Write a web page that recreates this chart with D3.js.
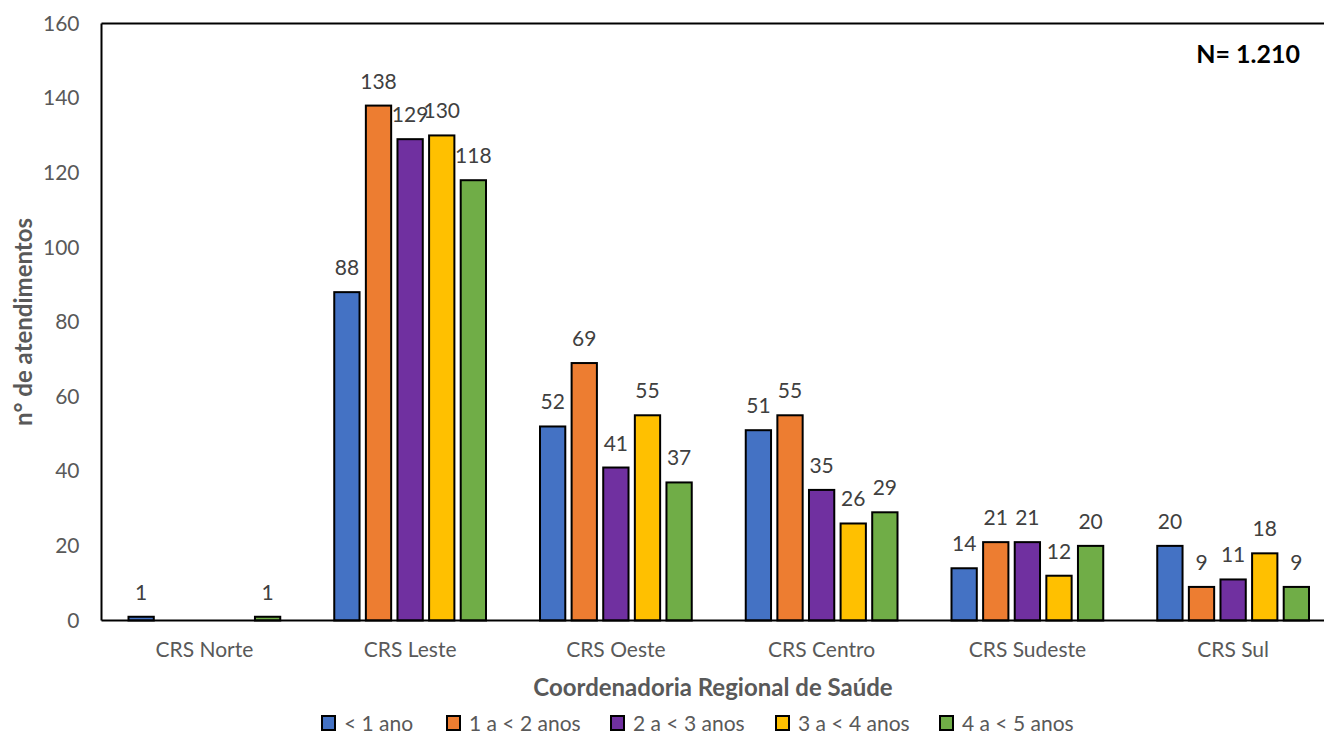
<!DOCTYPE html>
<html>
<head>
<meta charset="utf-8">
<script src="https://cdn.jsdelivr.net/npm/d3@7"></script>
<style>
  html, body { margin: 0; padding: 0; background: #fff; }
  svg { display: block; font-family: Lato, "Open Sans", sans-serif; }
</style>
</head>
<body>
<svg id="chart" width="1324" height="735"></svg>
<script>
// Regional coordinations (x categories)
const regions = ["CRS Norte", "CRS Leste", "CRS Oeste", "CRS Centro", "CRS Sudeste", "CRS Sul"];
// Age groups (series)
const ageGroups = ["< 1 ano", "1 a < 2 anos", "2 a < 3 anos", "3 a < 4 anos", "4 a < 5 anos"];
const ageColors = ["#4472C4", "#ED7D31", "#7030A0", "#FFC000", "#70AD47"];
// Number of visits per age group, one array per series (ordered as regions)
const lessThan1 = [1, 88, 52, 51, 14, 20];
const from1to2 = [0, 138, 69, 55, 21, 9];
const from2to3 = [0, 129, 41, 35, 21, 11];
const from3to4 = [0, 130, 55, 26, 12, 18];
const from4to5 = [1, 118, 37, 29, 20, 9];
const seriesValues = [lessThan1, from1to2, from2to3, from3to4, from4to5];
const yTicks = [0, 20, 40, 60, 80, 100, 120, 140, 160];

const svg = d3.select("#chart");
const plotLeft = 101.5, plotRight = 1336, plotTop = 23.5, plotBottom = 620.5;

const x = d3.scaleBand().domain(regions).range([plotLeft, plotRight]).paddingInner(0).paddingOuter(0);
const xInner = d3.scaleBand().domain(ageGroups).range([27, x.bandwidth() - 27]).paddingInner(0.2).paddingOuter(0);
const y = d3.scaleLinear().domain([0, 160]).range([plotBottom, plotTop]);

// Y tick labels
const yAxis = d3.axisLeft(y).tickValues(yTicks).tickSize(0).tickPadding(22);
const yg = svg.append("g").attr("transform", `translate(${plotLeft},0)`).call(yAxis);
yg.select(".domain").remove();
yg.selectAll("text").attr("fill", "#595959").style("font-size", "21px").style("font-family", "Lato, sans-serif");

// X tick labels
const xAxis = d3.axisBottom(x).tickSize(0).tickPadding(22);
const xg = svg.append("g").attr("transform", `translate(0,${plotBottom})`).call(xAxis);
xg.select(".domain").remove();
xg.selectAll("text").attr("fill", "#595959").style("font-size", "21px").style("font-family", "Lato, sans-serif");

// Bars
const rows = [];
regions.forEach((r, i) => ageGroups.forEach((g, j) => rows.push({ region: r, group: g, j, value: seriesValues[j][i] })));

svg.append("g").selectAll("rect")
  .data(rows.filter(d => d.value > 0))
  .join("rect")
  .attr("x", d => x(d.region) + xInner(d.group))
  .attr("width", xInner.bandwidth())
  .attr("y", d => y(d.value))
  .attr("height", d => y(0) - y(d.value))
  .attr("fill", d => ageColors[d.j])
  .attr("stroke", "#000")
  .attr("stroke-width", 2);

// Value labels
svg.append("g").selectAll("text")
  .data(rows.filter(d => d.value > 0))
  .join("text")
  .attr("x", d => x(d.region) + xInner(d.group) + xInner.bandwidth() / 2)
  .attr("y", d => y(d.value) - 17)
  .attr("text-anchor", "middle")
  .attr("fill", "#404040")
  .style("font-size", "21px")
  .text(d => d.value);

// Plot frame: left and top border, baseline
svg.append("line").attr("x1", plotLeft).attr("x2", plotLeft).attr("y1", plotTop).attr("y2", plotBottom).attr("stroke", "#000").attr("stroke-width", 2);
svg.append("line").attr("x1", plotLeft).attr("x2", plotRight).attr("y1", plotTop).attr("y2", plotTop).attr("stroke", "#000").attr("stroke-width", 2);
svg.append("line").attr("x1", plotLeft).attr("x2", plotRight).attr("y1", plotBottom).attr("y2", plotBottom).attr("stroke", "#000").attr("stroke-width", 2);

// Axis titles
svg.append("text")
  .attr("transform", `translate(32,${(plotTop + plotBottom) / 2}) rotate(-90)`)
  .attr("text-anchor", "middle")
  .attr("fill", "#595959")
  .style("font-size", "24px").style("font-weight", "bold")
  .text("n° de atendimentos");

svg.append("text")
  .attr("x", 713).attr("y", 696)
  .attr("text-anchor", "middle")
  .attr("fill", "#595959")
  .style("font-size", "24px").style("font-weight", "bold")
  .text("Coordenadoria Regional de Saúde");

// Total annotation
svg.append("text")
  .attr("x", 1300).attr("y", 63)
  .attr("text-anchor", "end")
  .attr("fill", "#000")
  .style("font-size", "25px").style("font-weight", "bold")
  .text("N= 1.210");

// Legend
const legendX = [322, 447, 611, 776, 940];
const lg = svg.append("g").selectAll("g").data(ageGroups).join("g")
  .attr("transform", (d, i) => `translate(${legendX[i]},716)`);
lg.append("rect").attr("width", 13).attr("height", 14)
  .attr("fill", (d, i) => ageColors[i]).attr("stroke", "#000").attr("stroke-width", 2);
lg.append("text").attr("x", 22).attr("y", 15)
  .attr("fill", "#595959").style("font-size", "21px")
  .text(d => d);
</script>
</body>
</html>
